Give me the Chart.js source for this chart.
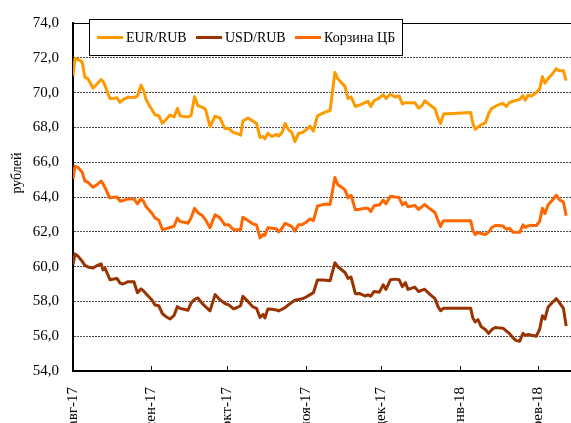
<!DOCTYPE html>
<html lang="ru">
<head>
<meta charset="utf-8">
<script src="https://cdn.jsdelivr.net/npm/chart.js@4.4.1/dist/chart.umd.min.js"></script>
<style>
  html, body { margin: 0; padding: 0; background: #fff; }
</style>
</head>
<body>
<canvas id="fxChart" width="571" height="423"></canvas>
<script>
// Days counted from 07.08.2017 (first axis label)
const days = [
  0, 0.8, 2.0, 3.6, 4.7, 5.9, 7.9, 9.9, 11.1, 11.9, 12.7, 13.4, 14.6, 16.2, 17.4, 18.6, 19.8, 21.8, 24.1, 25.5,
  26.9, 27.9, 28.9, 30.1, 31.3, 32.4, 33.9, 35.4, 36.8, 38.4, 40.0, 41.3, 42.3, 43.9, 45.5, 46.7, 48.1, 49.4, 51.0, 52.4,
  54.2, 56.2, 58.1, 60.1, 61.6, 63.5, 64.9, 66.3, 67.2, 69.2, 71.2, 72.6, 74.0, 75.2, 75.9, 77.1, 78.7, 80.5, 81.3, 82.7,
  83.9, 85.2, 86.6, 87.8, 89.2, 90.6, 92.2, 93.8, 95.1, 96.7, 98.5, 100.1, 101.7, 103.6, 104.8, 106.0, 107.6, 108.8, 110.0, 111.7,
  113.5, 115.5, 116.7, 117.8, 119.1, 121.2, 122.7, 123.8, 125.6, 127.4, 129.0, 130.3, 131.5, 132.5, 135.2, 136.7, 138.1, 139.1, 141.2, 143.2,
  144.4, 145.4, 146.6, 157.3, 158.2, 159.1, 160.2, 161.5, 163.1, 164.4, 165.7, 167.0, 168.1, 170.1, 171.4, 172.7, 174.1, 175.2, 176.7, 178.0,
  178.9, 180.0, 181.4, 183.3, 184.6, 185.7, 186.7, 187.9, 189.5, 191.2, 192.4, 194.0, 195.1
];

const eurRub = [
  70.97, 71.96, 71.9, 71.78, 70.88, 70.8, 70.26, 70.55, 70.75, 70.65, 70.4, 70.1, 69.66, 69.68, 69.7, 69.44, 69.6, 69.74, 69.72, 69.79,
  70.43, 70.13, 69.6, 69.29, 69.0, 68.73, 68.67, 68.24, 68.45, 68.71, 68.6, 69.1, 68.67, 68.62, 68.6, 68.69, 69.76, 69.25, 69.16, 69.05,
  68.04, 68.64, 68.54, 67.93, 67.93, 67.7, 67.65, 67.55, 68.36, 68.54, 68.36, 68.22, 67.42, 67.48, 67.35, 67.66, 67.48, 67.6, 67.5, 67.7,
  68.22, 67.89, 67.7, 67.18, 67.66, 67.7, 67.85, 68.07, 67.79, 68.67, 68.79, 68.9, 68.97, 71.16, 70.79, 70.6, 70.36, 69.66, 69.75, 69.2,
  69.3, 69.42, 69.5, 69.2, 69.53, 69.7, 69.89, 69.66, 69.91, 69.75, 69.81, 69.35, 69.42, 69.42, 69.42, 69.1, 69.25, 69.53, 69.29, 69.07,
  68.54, 68.22, 68.77, 68.86, 68.22, 67.89, 68.02, 68.15, 68.26, 68.79, 69.1, 69.2, 69.29, 69.38, 69.2, 69.44, 69.5, 69.55, 69.61, 69.83,
  69.57, 69.85, 69.8, 70.0, 70.22, 70.92, 70.54, 70.8, 71.05, 71.38, 71.25, 71.25, 70.69
];

const usdRub = [
  60.12, 60.72, 60.6, 60.31, 60.07, 59.98, 59.92, 60.09, 60.16, 59.81, 59.9, 59.66, 59.25, 59.29, 59.32, 59.05, 59.0, 59.13, 59.13, 58.5,
  58.72, 58.6, 58.44, 58.25, 58.07, 57.79, 57.75, 57.29, 57.12, 56.99, 57.2, 57.7, 57.6, 57.55, 57.49, 57.9, 58.12, 58.2, 57.9, 57.7,
  57.46, 58.39, 58.1, 57.88, 57.8, 57.57, 57.65, 57.75, 58.29, 58.0, 57.68, 57.6, 57.08, 57.25, 57.05, 57.57, 57.55, 57.51, 57.45, 57.55,
  57.64, 57.8, 57.95, 58.07, 58.11, 58.15, 58.25, 58.39, 58.5, 59.23, 59.23, 59.22, 59.19, 60.22, 59.99, 59.85, 59.66, 59.32, 59.4, 58.44,
  58.45, 58.31, 58.38, 58.3, 58.57, 58.53, 58.95, 58.69, 59.25, 59.28, 59.25, 58.85, 59.08, 58.69, 58.82, 58.57, 58.65, 58.7, 58.4, 58.16,
  57.7, 57.46, 57.61, 57.61, 57.04, 56.82, 56.95, 56.54, 56.39, 56.16, 56.38, 56.5, 56.48, 56.46, 56.3, 56.15, 55.9, 55.76, 55.71, 56.16,
  56.05, 56.1, 56.05, 56.0, 56.4, 57.18, 56.99, 57.66, 57.92, 58.16, 57.93, 57.6, 56.58
];

const basketCB = [
  65.03, 65.76, 65.7, 65.44, 64.92, 64.85, 64.56, 64.75, 64.92, 64.75, 64.54, 64.3, 63.95, 63.98, 64.0, 63.76, 63.8, 63.89, 63.89, 63.61,
  63.91, 63.75, 63.45, 63.25, 63.05, 62.8, 62.68, 62.12, 62.18, 62.25, 62.32, 62.79, 62.6, 62.55, 62.49, 62.8, 63.35, 63.1, 62.95, 62.7,
  62.23, 62.98, 62.8, 62.4, 62.4, 62.12, 62.12, 62.12, 62.83, 62.65, 62.45, 62.4, 61.65, 61.85, 61.8, 62.23, 62.2, 62.18, 61.99, 62.2,
  62.49, 62.4, 62.3, 62.04, 62.4, 62.4, 62.55, 62.74, 62.64, 63.48, 63.55, 63.6, 63.57, 65.12, 64.69, 64.6, 64.41, 63.95, 64.1, 63.26,
  63.3, 63.35, 63.35, 63.16, 63.5, 63.54, 63.82, 63.61, 64.04, 64.0, 63.97, 63.55, 63.7, 63.44, 63.52, 63.29, 63.45, 63.57, 63.32, 63.11,
  62.64, 62.31, 62.64, 62.64, 62.08, 61.84, 61.95, 61.9, 61.84, 61.98, 62.25, 62.36, 62.36, 62.33, 62.15, 62.2, 61.97, 61.97, 61.97, 62.4,
  62.25, 62.35, 62.36, 62.36, 62.6, 63.35, 63.05, 63.54, 63.8, 64.1, 63.85, 63.71, 62.92
];

// Month labels and their day positions
const monthTicks = [0, 31, 61, 92, 122, 153, 184];
const monthLabels = ['авг-17', 'сен-17', 'окт-17', 'ноя-17', 'дек-17', 'янв-18', 'фев-18'];

const seriesNames = ['EUR/RUB', 'USD/RUB', 'Корзина ЦБ'];
const seriesColors = ['#FF9900', '#993300', '#FF6600'];

const FONT = "'Liberation Serif', 'Times New Roman', serif";

function toPoints(values) {
  return values.map((v, i) => ({ x: days[i], y: v }));
}

// Legend in a framed box, y-axis title, inner tick marks and top border
const decorPlugin = {
  id: 'decor',
  afterDraw(chart) {
    const { ctx, chartArea, scales } = chart;
    ctx.save();

    // top border of plot area
    ctx.strokeStyle = '#000';
    ctx.lineWidth = 1;
    ctx.beginPath();
    ctx.moveTo(chartArea.left, chartArea.top + 0.5);
    ctx.lineTo(chartArea.right, chartArea.top + 0.5);
    ctx.stroke();

    // tick marks pointing into the plot
    monthTicks.forEach(v => {
      const x = Math.round(scales.x.getPixelForValue(v)) + 0.5;
      ctx.beginPath();
      ctx.moveTo(x, chartArea.bottom);
      ctx.lineTo(x, chartArea.bottom - 5);
      ctx.stroke();
    });

    // y axis title
    ctx.fillStyle = '#000';
    ctx.font = '14px ' + FONT;
    ctx.textAlign = 'center';
    ctx.textBaseline = 'middle';
    ctx.translate(17, 173);
    ctx.rotate(-Math.PI / 2);
    ctx.fillText('рублей', 0, 0);
    ctx.setTransform(1, 0, 0, 1, 0, 0);

    // legend box
    ctx.fillStyle = '#fff';
    ctx.fillRect(89.5, 19.5, 313, 36);
    ctx.strokeStyle = '#000';
    ctx.strokeRect(89.5, 19.5, 313, 36);

    const itemX = [97, 196, 295];
    ctx.font = '14px ' + FONT;
    ctx.textAlign = 'left';
    ctx.textBaseline = 'middle';
    seriesNames.forEach((name, i) => {
      ctx.strokeStyle = seriesColors[i];
      ctx.lineWidth = 3;
      ctx.beginPath();
      ctx.moveTo(itemX[i], 37.5);
      ctx.lineTo(itemX[i] + 26, 37.5);
      ctx.stroke();
      ctx.fillStyle = '#000';
      ctx.fillText(name, itemX[i] + 29, 38);
    });

    ctx.restore();
  }
};

const series = [eurRub, usdRub, basketCB];

new Chart(document.getElementById('fxChart').getContext('2d'), {
  type: 'line',
  data: {
    datasets: series.map((vals, i) => ({
      label: seriesNames[i],
      data: toPoints(vals),
      borderColor: seriesColors[i],
      backgroundColor: seriesColors[i],
      borderWidth: 3,
      borderJoinStyle: 'round',
      pointRadius: 0,
      tension: 0,
      fill: false
    }))
  },
  options: {
    responsive: false,
    animation: false,
    layout: { padding: { top: 14, right: 0, left: 0, bottom: 0 } },
    plugins: {
      legend: { display: false },
      tooltip: { enabled: false }
    },
    scales: {
      x: {
        type: 'linear',
        min: 0,
        max: 197,
        afterBuildTicks: s => { s.ticks = monthTicks.map(v => ({ value: v })); },
        afterFit: s => { s.height = 52; },
        grid: { display: false },
        border: { display: true, color: '#000', width: 2 },
        ticks: {
          autoSkip: false,
          maxRotation: 90,
          minRotation: 90,
          padding: 8,
          color: '#000',
          font: { family: FONT, size: 15 },
          callback: v => monthLabels[monthTicks.indexOf(v)]
        }
      },
      y: {
        min: 54,
        max: 74,
        afterFit: s => { s.width = 73; },
        grid: { color: '#4d4d4d', lineWidth: 1, drawTicks: false },
        border: { display: true, color: '#000', width: 2, dash: [2, 1] },
        ticks: {
          stepSize: 2,
          padding: 14,
          color: '#000',
          font: { family: FONT, size: 15 },
          callback: v => v.toFixed(1).replace('.', ',')
        }
      }
    }
  },
  plugins: [decorPlugin]
});
</script>
</body>
</html>
